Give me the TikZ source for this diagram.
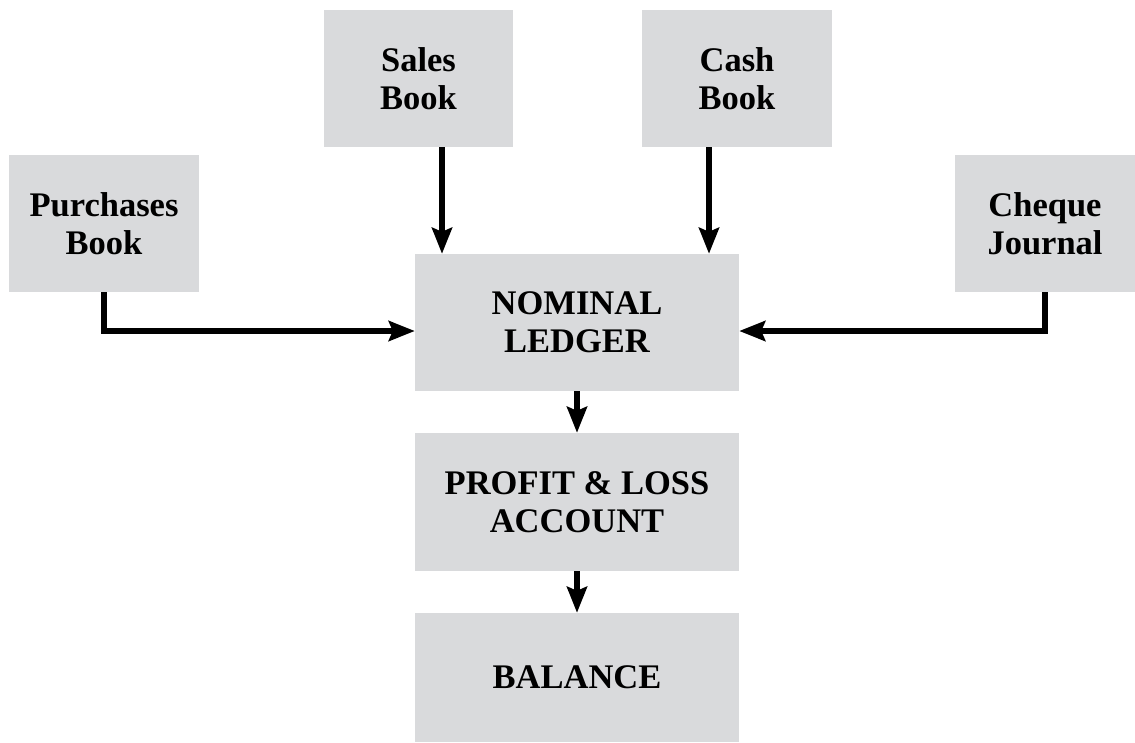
\documentclass[tikz,border=0pt]{standalone}
\usepackage{fontspec}
\setmainfont{Liberation Serif}
\usetikzlibrary{arrows.meta}
\definecolor{boxgray}{RGB}{217,218,220}
\tikzset{
  bx/.style={rectangle, fill=boxgray, draw=none, inner sep=0pt, align=center,
    font=\fontsize{34.5}{38}\selectfont\bfseries},
  arr/.style={line width=5.5pt, -{Stealth[length=26pt,width=20pt,inset=4pt]}}
}
\begin{document}
\begin{tikzpicture}[x=1pt,y=-1pt]
\useasboundingbox (0,0) rectangle (1135,742);
\node[bx, minimum width=189pt, minimum height=137pt] (sales) at (418.5,78.5) {Sales\\Book};
\node[bx, minimum width=190pt, minimum height=137pt] (cash) at (737,78.5) {Cash\\Book};
\node[bx, minimum width=190pt, minimum height=137pt] (purch) at (104,223.5) {Purchases\\Book};
\node[bx, minimum width=180pt, minimum height=137pt] (cheque) at (1045,223.5) {Cheque\\Journal};
\node[bx, minimum width=324pt, minimum height=137pt] (nl) at (577,322.5) {NOMINAL\\LEDGER};
\node[bx, minimum width=324pt, minimum height=138pt] (pl) at (577,502) {PROFIT \& LOSS\\ACCOUNT};
\node[bx, minimum width=324pt, minimum height=129pt] (bal) at (577,677.5) {BALANCE};
\coordinate (sx) at (442,0);
\coordinate (cx) at (709,0);
\coordinate (hy) at (0,331);
\draw[arr] (sales.south -| sx) -- (nl.north -| sx);
\draw[arr] (cash.south -| cx) -- (nl.north -| cx);
\draw[arr] (purch.south) |- (nl.west |- hy);
\draw[arr] (cheque.south) |- (nl.east |- hy);
\draw[arr] (nl.south) -- (pl.north);
\draw[arr] (pl.south) -- (bal.north);
\end{tikzpicture}
\end{document}
